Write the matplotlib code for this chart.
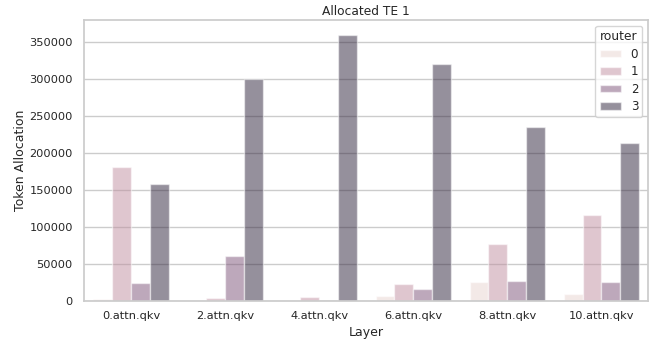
import numpy as np
import pandas as pd
import matplotlib
matplotlib.use("Agg")
import matplotlib.pyplot as plt
import seaborn as sns

layers = ["0.attn.qkv", "2.attn.qkv", "4.attn.qkv", "6.attn.qkv", "8.attn.qkv", "10.attn.qkv"]
routers = [0, 1, 2, 3]

# token counts per router, one list per router across layers
router0 = [2300, 1200, 0, 6800, 26000, 9000]
router1 = [181000, 3500, 5500, 22500, 77000, 116000]
router2 = [23500, 61000, 1000, 16500, 26500, 25000]
router3 = [158000, 300000, 360000, 321000, 235000, 213000]

rows = []
for r, vals in zip(routers, [router0, router1, router2, router3]):
    for layer, v in zip(layers, vals):
        rows.append({"Layer": layer, "router": r, "Token Allocation": v})
df = pd.DataFrame(rows)

sns.set_theme(style="whitegrid")
plt.rcParams["font.family"] = ["DejaVu Sans"]

fig, ax = plt.subplots(figsize=(6.55, 3.45), dpi=100)
sns.barplot(data=df, x="Layer", y="Token Allocation", hue="router",
            alpha=0.5, ax=ax)
ax.set_title("Allocated TE 1", fontsize=8.8, pad=3.5)
ax.set_xlabel("Layer", fontsize=9)
ax.set_ylabel("Token Allocation", fontsize=9)
ax.xaxis.set_label_coords(0.5, -0.088)
ax.yaxis.set_label_coords(-0.1, 0.5)
# no visible tick marks, so keep the label gap explicit
ax.tick_params(axis="x", length=0, labelsize=8.2, pad=7.5)
ax.tick_params(axis="y", length=0, labelsize=8.2, pad=7.9)
ax.set_ylim(0, 380000)
ax.legend(title="router", loc="upper right", fontsize=8.6, title_fontsize=8.8,
          labelspacing=0.38, handlelength=1.8, handleheight=0.6, borderpad=0.35)

fig.subplots_adjust(left=0.128, right=0.99, top=0.942, bottom=0.128)
fig.savefig("out.png", dpi=100)
